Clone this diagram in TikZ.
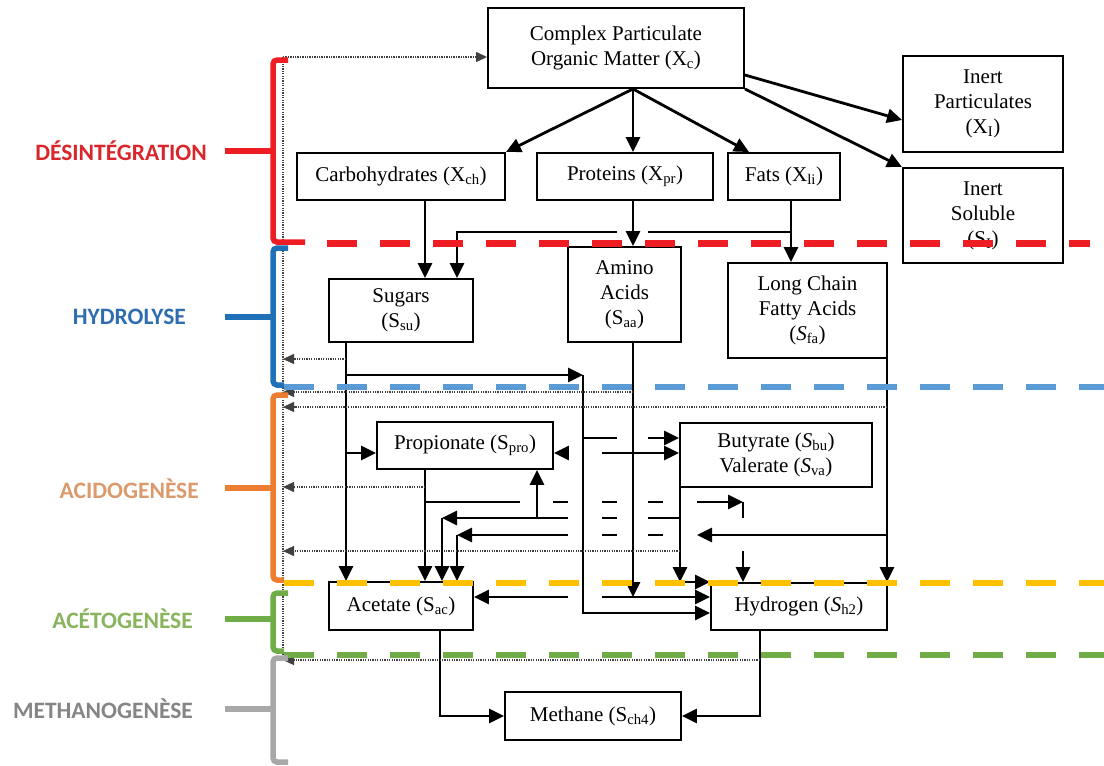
\documentclass[tikz,border=0pt]{standalone}
\usepackage{fontspec}
\setmainfont{Liberation Serif}
\newfontfamily\labfont{Carlito}
\usetikzlibrary{arrows.meta}
\definecolor{cRed}{HTML}{EE1D23}
\definecolor{cRedT}{HTML}{D9262B}
\definecolor{cBlue}{HTML}{2070B8}
\definecolor{cBlueD}{HTML}{5B9BD5}
\definecolor{cBlueT}{HTML}{2E6DB0}
\definecolor{cOrg}{HTML}{ED7D31}
\definecolor{cOrgT}{HTML}{DB9A6C}
\definecolor{cYel}{HTML}{FFC000}
\definecolor{cGrn}{HTML}{70AD47}
\definecolor{cGrnT}{HTML}{89B45E}
\definecolor{cGry}{HTML}{A8A8A8}
\definecolor{cGryT}{HTML}{858585}
\begin{document}
\begin{tikzpicture}[x=1pt,y=-1pt,
  box/.style={draw, line width=1.9pt, fill=white, align=center, inner sep=2pt,
    font=\fontsize{21}{25}\selectfont},
  ln/.style={line width=2.8pt},
  arr/.style={line width=2.8pt, -{Triangle[length=15pt,width=14pt]}},
  dot/.style={line width=1.3pt, dash pattern=on 1.3pt off 1.1pt, black!75},
  dotarr/.style={dot, -{Triangle[length=11pt,width=10pt]}},
  brk/.style={line width=5.5pt, rounded corners=4pt},
  dsh/.style={line width=6.5pt, dash pattern=on 30pt off 23pt},
  lab/.style={anchor=east, inner sep=0pt, font=\labfont\bfseries\fontsize{23.5}{26}\selectfont}]
\useasboundingbox (0,0) rectangle (1104,766);

% ---------- boxes
\node[box,minimum width=256pt,minimum height=80pt] (Xc) at (616,48) {Complex Particulate\\Organic Matter (X\textsubscript{c})};
\node[box,minimum width=160pt,minimum height=96pt] (XI) at (983,104) {Inert\\Particulates\\(X\textsubscript{I})};
\node[box,minimum width=160pt,minimum height=95pt] (SI) at (983,215.5) {Inert\\Soluble\\(S\textsubscript{I})};
\node[box,minimum width=208pt,minimum height=47pt] (Xch) at (401,176.5) {Carbohydrates (X\textsubscript{ch})};
\node[box,minimum width=176pt,minimum height=47pt] (Xpr) at (625,176.5) {Proteins (X\textsubscript{pr})};
\node[box,minimum width=112pt,minimum height=47pt] (Xli) at (784,176.5) {Fats (X\textsubscript{li})};
\node[box,minimum width=144pt,minimum height=63pt] (Ssu) at (401,310.5) {Sugars\\(S\textsubscript{su})};
\node[box,minimum width=113pt,minimum height=95pt] (Saa) at (624.5,294.5) {Amino\\Acids\\(S\textsubscript{aa})};
\node[box,minimum width=159pt,minimum height=95pt] (Sfa) at (807.5,310.5) {Long Chain\\Fatty Acids\\(\textit{S}\textsubscript{fa})};
\node[box,minimum width=176pt,minimum height=47pt] (Spro) at (465,445.5) {Propionate (S\textsubscript{pro})};
\node[box,minimum width=192pt,minimum height=64pt] (Sbu) at (776,455) {Butyrate (\textit{S}\textsubscript{bu})\\Valerate (\textit{S}\textsubscript{va})};
\node[box,minimum width=144pt,minimum height=48pt] (Sac) at (401,606) {Acetate (S\textsubscript{ac})};
\node[box,minimum width=176pt,minimum height=47pt] (Sh2) at (799,606.5) {Hydrogen (\textit{S}\textsubscript{h2})};
\node[box,minimum width=176pt,minimum height=48pt] (Sch4) at (593,716) {Methane (S\textsubscript{ch4})};

% ---------- columns and rows
\coordinate (cL) at (283,0);   \coordinate (cSu) at (346,0);
\coordinate (cCh) at (425,0);  \coordinate (cAm) at (440,0);
\coordinate (cBu) at (442,0);  \coordinate (cGl) at (457,0);
\coordinate (g520) at (520,0); \coordinate (cVa) at (537,0);
\coordinate (g552) at (553,0); \coordinate (g568) at (568,0);
\coordinate (cSH) at (583,0);  \coordinate (g602) at (602,0);
\coordinate (g617) at (617,0); \coordinate (cPr) at (633,0);
\coordinate (g648) at (648,0); \coordinate (g663) at (663,0);
\coordinate (cBV) at (680,0);  \coordinate (g697) at (697,0);
\coordinate (cPH) at (743,0);  \coordinate (cFt) at (749,0);
\coordinate (cMe) at (760,0);  \coordinate (cLi) at (791,0);
\coordinate (cFA) at (887,0);
\coordinate (rTop) at (0,57);  \coordinate (rGl) at (0,232);
\coordinate (rSuD) at (0,359); \coordinate (rSuH) at (0,375);
\coordinate (rAaD) at (0,392); \coordinate (rFaD) at (0,407);
\coordinate (rBu1) at (0,438); \coordinate (rPr) at (0,453);
\coordinate (rPrD) at (0,487); \coordinate (rPH) at (0,502);
\coordinate (rVa) at (0,518);  \coordinate (rFA) at (0,535);
\coordinate (rBuD) at (0,551); \coordinate (rAa) at (0,597);
\coordinate (rSuH2) at (0,613); \coordinate (rH2D) at (0,660);
\coordinate (xs) at (Xc.south -| cPr);

% ---------- disintegration
\draw[arr] (xs) -- (Xch.north east);
\draw[arr] (xs) -- (Xpr.north -| cPr);
\draw[arr] (xs) -- (Xli.north -| cFt);
\draw[arr] ([yshift=-27pt]Xc.east) -- ([yshift=-16pt]XI.west);
\draw[arr] (Xc.south east) -- (SI.north west);

% ---------- hydrolysis
\draw[arr] (Xch.south -| cCh) -- (Ssu.north -| cCh);
\draw[arr] (Xpr.south -| cPr) -- (Saa.north -| cPr);
\draw[arr] (Xli.south -| cLi) -- (Sfa.north -| cLi);
\draw[ln] (cLi |- rGl) -- (g648 |- rGl);
\draw[arr] (g617 |- rGl) -- (cGl |- rGl) -- (Ssu.north -| cGl);

% ---------- sugars
\draw[arr] (Ssu.south -| cSu) -- (Sac.north -| cSu);
\draw[dotarr] (cSu |- rSuD) -- (cL |- rSuD);
\draw[arr] (cSu |- rSuH) -- (cSH |- rSuH);
\draw[arr] (cSH |- rSuH) -- (cSH |- rSuH2) -- (Sh2.west |- rSuH2);
\draw[arr] (cSu |- rPr) -- (Spro.west |- rPr);
\draw[ln] (cSH |- rBu1) -- (g617 |- rBu1);
\draw[arr] (g648 |- rBu1) -- (Sbu.west |- rBu1);

% ---------- amino acids
\draw[arr] (Saa.south -| cPr) -- (cPr |- rAa);
\draw[dotarr] (cPr |- rAaD) -- (cL |- rAaD);
\draw[arr] (g602 |- rPr) -- (Sbu.west |- rPr);
\draw[arr] (g568 |- rPr) -- (Spro.east |- rPr);
\draw[arr] (g602 |- rAa) -- (Sh2.west |- rAa);
\draw[arr] (g568 |- rAa) -- (Sac.east |- rAa);

% ---------- long chain fatty acids
\draw[arr] (Sfa.south -| cFA) -- (Sh2.north -| cFA);
\draw[dotarr] (cFA |- rFaD) -- (cL |- rFaD);
\draw[arr] (cFA |- rFA) -- (g697 |- rFA);
\draw[ln] (g663 |- rFA) -- (g648 |- rFA);
\draw[ln] (g617 |- rFA) -- (g602 |- rFA);
\draw[arr] (g568 |- rFA) -- (cGl |- rFA);
\draw[arr] (cGl |- rFA) -- (Sac.north -| cGl);

% ---------- propionate
\draw[arr] (Spro.south -| cCh) -- (Sac.north -| cCh);
\draw[dotarr] (cCh |- rPrD) -- (cL |- rPrD);
\draw[ln] (cCh |- rPH) -- (g520 |- rPH);
\draw[ln] (g552 |- rPH) -- (g568 |- rPH);
\draw[ln] (g602 |- rPH) -- (g617 |- rPH);
\draw[ln] (g648 |- rPH) -- (g663 |- rPH);
\draw[arr] (g697 |- rPH) -- (cPH |- rPH);
\draw[ln] (cPH |- rPH) -- (cPH |- rVa);
\draw[arr] (cPH |- rBuD) -- (Sh2.north -| cPH);

% ---------- butyrate / valerate
\draw[arr] (Sbu.south -| cBV) -- (cBV |- Sh2.north);
\draw[arr] (cBV |- Sh2.north) -- (Sh2.north west);
\draw[dotarr] (cBV |- rBuD) -- (cL |- rBuD);
\draw[ln] (cBV |- rVa) -- (g648 |- rVa);
\draw[ln] (g617 |- rVa) -- (g602 |- rVa);
\draw[arr] (g568 |- rVa) -- (cBu |- rVa);
\draw[arr] (cBu |- rVa) -- (Sac.north -| cBu);
\draw[arr] (cVa |- rVa) -- (Spro.south -| cVa);

% ---------- methanogenesis
\draw[arr] (Sac.south -| cAm) -- (cAm |- Sch4.west) -- (Sch4.west);
\draw[arr] (Sh2.south -| cMe) -- (cMe |- Sch4.east) -- (Sch4.east);
\draw[dotarr] (cMe |- rH2D) -- (cL |- rH2D);

% ---------- decay feedback
\draw[dot] (cL |- rH2D) -- (cL |- rTop);
\draw[dotarr] (cL |- rTop) -- (Xc.west |- rTop);

% ---------- phase brackets and separators
\draw[brk, cRed] (288,60) -- (273,60) -- (273,242) -- (305,242);
\draw[brk, cRed] (225,151) -- (273,151);
\draw[dsh, cRed, line width=7pt] (327,243) -- (1090,243);

\draw[brk, cBlue] (288,248) -- (273,248) -- (273,385) -- (284,385);
\draw[brk, cBlue] (225,317) -- (273,317);
\draw[dsh, cBlueD] (284,387) -- (1104,387);

\draw[brk, cOrg] (288,395) -- (273,395) -- (273,580) -- (284,580);
\draw[brk, cOrg] (225,488) -- (273,488);
\draw[dsh, cYel] (284,583) -- (1104,583);

\draw[brk, cGrn] (288,593) -- (273,593) -- (273,651) -- (284,651);
\draw[brk, cGrn] (225,619) -- (273,619);
\draw[dsh, cGrn] (284,655) -- (1104,655);

\draw[brk, cGry] (288,658) -- (273,658) -- (273,762) -- (288,762);
\draw[brk, cGry] (225,709) -- (273,709);

% ---------- phase labels
\node[lab, text=cRedT]  (L1) at (207,151) {DÉSINTÉGRATION};
\node[lab, text=cBlueT] (L2) at (186,317) {HYDROLYSE};
\node[lab, text=cOrgT]  (L3) at (199,489) {ACIDOGENÈSE};
\node[lab, text=cGrnT]  (L4) at (193,619) {ACÉTOGENÈSE};
\node[lab, text=cGryT]  (L5) at (193,709) {METHANOGENÈSE};
\end{tikzpicture}
\end{document}
